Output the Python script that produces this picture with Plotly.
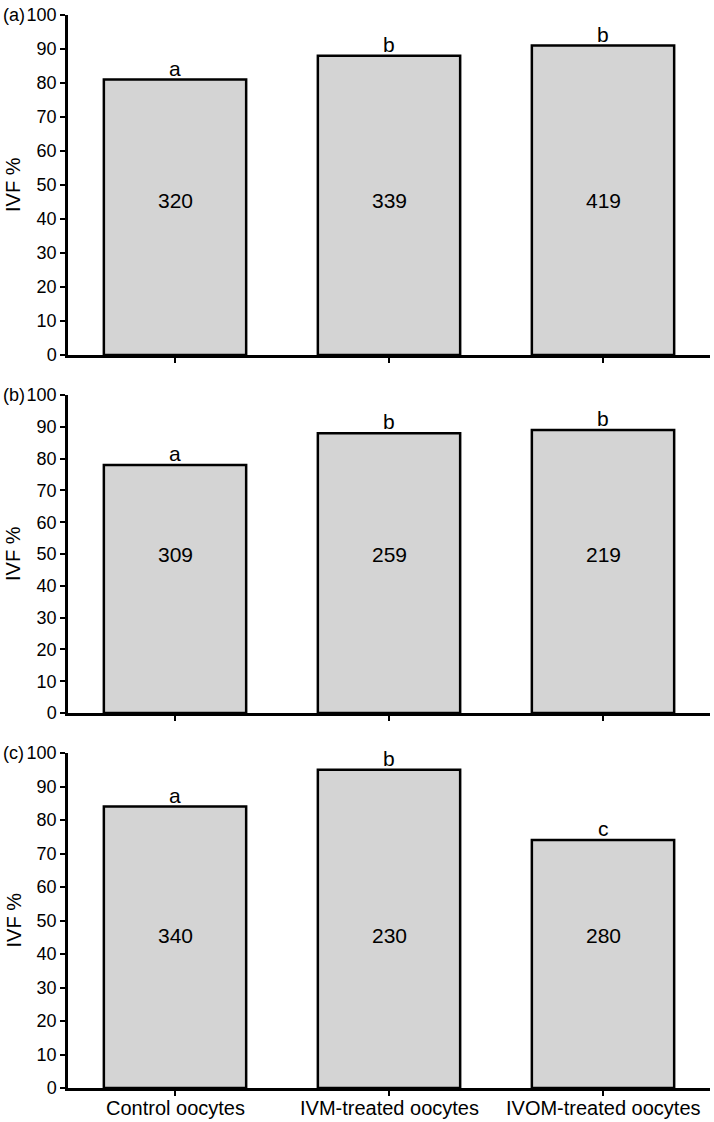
import plotly.graph_objects as go

categories = ["Control oocytes", "IVM-treated oocytes", "IVOM-treated oocytes"]
panel_labels = ["(a)", "(b)", "(c)"]
ivf_a = [81, 88, 91]
ivf_b = [78, 88, 89]
ivf_c = [84, 95, 74]
n_a = ["320", "339", "419"]
n_b = ["309", "259", "219"]
n_c = ["340", "230", "280"]
sig_a = ["a", "b", "b"]
sig_b = ["a", "b", "b"]
sig_c = ["a", "b", "c"]
y_ticks = [0, 10, 20, 30, 40, 50, 60, 70, 80, 90, 100]

W, H = 714, 1122
FONT = "Liberation Sans, Arial, sans-serif"

# panel pixel positions on the page (top, bottom)
panels_px = [(15, 355), (395, 713), (753, 1088)]
count_y = [45.5, 50, 45.5]
xlabel_page_y = 1108

values = [ivf_a, ivf_b, ivf_c]
counts = [n_a, n_b, n_c]
sigs = [sig_a, sig_b, sig_c]

fig = go.Figure()
annotations = []
x_dom = [68 / W, 710 / W]

for i in range(3):
    ax = "" if i == 0 else str(i + 1)
    top, bot = panels_px[i]
    fig.add_trace(go.Bar(
        x=categories, y=values[i], xaxis="x" + ax, yaxis="y" + ax,
        width=0.665, marker=dict(color="#d4d4d4", line=dict(color="black", width=2.5)),
        showlegend=False, hoverinfo="skip",
    ))
    dom = [1 - bot / H, 1 - top / H]
    fig.update_layout(**{
        "xaxis" + ax: dict(
            domain=x_dom, anchor="y" + ax, range=[-0.5, 2.5],
            showline=True, linecolor="black", linewidth=2.5,
            ticks="outside", ticklen=5, tickwidth=2, tickcolor="black",
            showticklabels=False, showgrid=False, zeroline=False,
            automargin=False,
        ),
        "yaxis" + ax: dict(
            domain=dom, anchor="x" + ax, range=[0, 100],
            tickvals=y_ticks, showline=True, linecolor="black", linewidth=2.5,
            ticks="outside", ticklen=5, tickwidth=2, tickcolor="black",
            showgrid=False, zeroline=False, ticklabeloverflow="allow",
            tickfont=dict(family=FONT, size=18, color="black"),
            automargin=False,
        ),
    })
    for j, c in enumerate(categories):
        annotations.append(dict(
            x=c, y=values[i][j], xref="x" + ax, yref="y" + ax,
            text=sigs[i][j], showarrow=False, yanchor="bottom", yshift=-2,
            font=dict(family=FONT, size=21, color="black"),
        ))
        annotations.append(dict(
            x=c, y=count_y[i], xref="x" + ax, yref="y" + ax,
            text=counts[i][j], showarrow=False, yanchor="middle",
            font=dict(family=FONT, size=21, color="black"),
        ))
    annotations.append(dict(
        x=1 / W, y=1 - top / H, xref="paper", yref="paper",
        text=panel_labels[i], showarrow=False, xanchor="left", yanchor="middle",
        font=dict(family=FONT, size=18, color="black"),
    ))
    annotations.append(dict(
        x=13 / W, y=1 - (top + bot) / 2 / H, xref="paper", yref="paper",
        text="IVF %", showarrow=False, textangle=-90, xanchor="center", yanchor="middle",
        font=dict(family=FONT, size=20, color="black"),
    ))

# category labels below the bottom panel
for c in categories:
    annotations.append(dict(
        x=c, y=1 - xlabel_page_y / H, xref="x3", yref="paper",
        text=c, showarrow=False, yanchor="middle",
        font=dict(family=FONT, size=20, color="black"),
    ))

fig.update_layout(
    width=W, height=H, margin=dict(l=0, r=0, t=0, b=0),
    paper_bgcolor="white", plot_bgcolor="white",
    annotations=annotations,
)

fig.write_html("out.html", config={"displayModeBar": False},
               post_script="document.body.style.margin='0';")
